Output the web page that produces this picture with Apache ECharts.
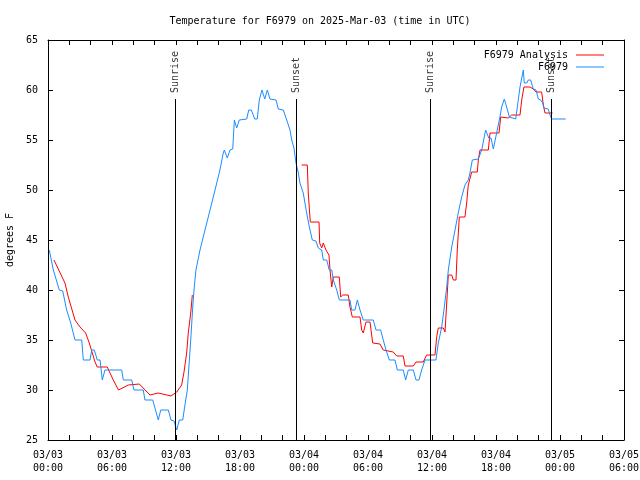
<!DOCTYPE html>
<html>
<head>
<meta charset="utf-8">
<script src="https://cdn.jsdelivr.net/npm/echarts@6/dist/echarts.min.js"></script>
<style>html,body{margin:0;padding:0;background:#fff;}#c{width:640px;height:480px;}</style>
</head>
<body>
<div id="c"></div>
<script>
// Hours since 2025-03-03 00:00 UTC
var analysisHours = [0.56,1.59,1.90,2.53,3.00,3.53,3.87,4.41,4.62,5.56,6.12,6.61,7.53,8.56,9.56,10.34,11.53,12.07,12.53,12.75,13.00,13.15,13.38,13.53,
  null,
  23.78,24.31,24.40,24.59,25.41,25.47,25.66,25.81,26.06,26.34,26.44,26.60,26.75,27.31,27.44,27.63,28.15,28.31,28.53,29.25,29.41,29.56,29.81,30.19,30.44,31.12,31.43,32.37,32.69,33.31,33.47,34.25,34.50,35.18,35.50,36.28,36.44,36.59,37.06,37.22,37.38,37.53,37.85,38.00,38.25,38.37,38.56,39.09,39.25,39.40,39.72,40.25,40.34,40.50,41.28,41.44,42.28,42.44,43.15,43.47,44.25,44.41,44.62,45.19,45.50,45.75,46.28,46.44,46.59,47.31];
var analysisTemp = [43,40.7,39.3,37,36.3,35.7,34.7,32.8,32.3,32.3,31,30,30.5,30.6,29.5,29.7,29.4,29.8,30.5,31.8,33.7,35.7,37.7,39.5,
  null,
  52.5,52.5,49.7,46.8,46.8,44.7,44.2,44.7,44,43.5,42,40.3,41.3,41.3,39.3,39.5,39.5,38.3,37.3,37.3,36,35.7,36.8,36.8,34.7,34.6,34,33.8,33.4,33.4,32.4,32.4,32.8,32.8,33.5,33.5,35.3,36.2,36.2,35.8,38.7,41.5,41.5,41,41,44,47.3,47.3,48.7,50.5,51.8,51.8,53,54,54,55.7,55.7,57.3,57.2,57.5,57.5,59,60.3,60.3,60.1,59.8,59.8,58.5,57.7,57.7];

var obsHours = [0.12,0.50,1.06,1.38,1.75,2.13,2.53,3.16,3.31,3.94,4.10,4.34,4.62,4.88,5.09,5.34,6.91,7.06,7.85,8.06,8.93,9.09,9.82,10.34,10.57,11.28,11.53,11.81,12.07,12.31,12.63,12.84,13.06,13.38,13.57,13.69,13.87,14.25,14.72,15.19,15.66,16.12,16.43,16.53,16.81,17.06,17.32,17.47,17.69,17.93,18.63,18.82,19.06,19.38,19.62,19.81,20.06,20.32,20.56,20.81,21.38,21.59,22.06,22.38,22.69,22.85,23.06,23.25,23.47,23.62,23.93,24.25,24.50,24.78,25.12,25.34,25.66,25.81,26.13,26.37,26.60,26.75,27.07,27.31,28.31,28.47,28.78,29.00,29.25,29.56,30.50,30.75,31.19,31.43,31.69,32.00,32.53,32.75,33.31,33.53,33.78,34.25,34.50,34.78,35.03,35.34,36.37,36.59,36.91,37.12,37.38,37.53,37.85,38.16,38.46,38.78,39.09,39.40,39.56,39.78,40.34,40.66,41.03,41.32,41.53,41.75,42.06,42.37,42.53,42.78,43.00,43.25,43.31,43.85,44.00,44.25,44.56,44.65,44.88,45.03,45.25,45.50,45.75,45.97,46.19,46.38,46.50,46.90,47.06,47.22,48.53];
var obsTemp = [44,42,40,39.9,38,36.7,35,35,33,33,34,34,33,33,31,32,32,31,31,30,30,29,29,27,28,28,27,26.9,26,27,27,28.5,30,35,38.3,40,42,44,46,48,50,52,53.7,54,53.2,54,54.1,57,56.2,57,57.1,58,58,57.1,57.1,59,60,59.1,60,59.1,59,58.1,58,57,56,55,54.2,52.7,51.7,50.7,49.7,47.7,46.3,45,44.9,44.2,44,43,43,42,42,41,40,39,39,38,38,39,38,37,37,36,36,35,34,33,33,32,32,31,32,32,31,31,32,33,33,34.7,36.3,38,40.3,42,44.3,46,47.7,49.3,50.5,51,51.7,53,53.1,54,56,55.2,55.2,54.1,55.7,57.3,58.3,59.1,58.3,57.3,57.1,57.1,58.3,60.3,62,60.7,60.7,61,61,60.1,60,59.1,59,58.7,58.2,58.1,57.5,57.1,57.1];

var eventHours = [11.91, 23.25, 35.81, 47.16];
var eventNames = ['Sunrise', 'Sunset', 'Sunrise', 'Sunset'];
var eventTop = 59.1;

var seriesNames = ['F6979 Analysis', 'F6979'];
var seriesColors = ['#ff0000', '#1a8cff'];
var yTicks = [25, 65, 5];

function pairs(xs, ys) {
  var out = [];
  for (var i = 0; i < xs.length; i++) {
    out.push(xs[i] === null ? [null, null] : [xs[i], ys[i]]);
  }
  return out;
}

var FONT = 'DejaVu Sans Mono';
function fmtX(v) {
  var day = 3 + Math.floor(v / 24);
  var hr = Math.round(v % 24);
  return '03/0' + day + '\n' + (hr < 10 ? '0' : '') + hr + ':00';
}

var eventLines = eventHours.map(function (h) {
  return [{ coord: [h, yTicks[0]] }, { coord: [h, eventTop] }];
});

var chart = echarts.init(document.getElementById('c'), null, { renderer: 'canvas' });
var axisCommon = {
  axisLine: { show: true, onZero: false, lineStyle: { color: '#000', width: 1 } },
  axisTick: { show: true, inside: true, length: 5, lineStyle: { color: '#000' } },
  splitLine: { show: false }
};
chart.setOption({
  animation: false,
  backgroundColor: '#fff',
  title: {
    text: 'Temperature for F6979 on 2025-Mar-03 (time in UTC)',
    left: 'center', top: 11,
    textStyle: { fontFamily: FONT, fontSize: 10, fontWeight: 'normal', color: '#000' }
  },
  legend: {
    data: seriesNames.map(function (n, i) {
      return { name: n, icon: 'rect', itemStyle: { color: seriesColors[i] } };
    }),
    orient: 'vertical',
    right: 31, top: 44,
    align: 'right',
    itemWidth: 28, itemHeight: 1, itemGap: 0,
    textStyle: { fontFamily: FONT, fontSize: 10, color: '#000', lineHeight: 12, padding: [0, 3, 0, 0] }
  },
  grid: { left: 48, right: 16, top: 40, bottom: 40, containLabel: false, outerBoundsMode: 'none' },
  xAxis: [
    Object.assign({}, axisCommon, {
      type: 'value', min: 0, max: 54, interval: 6, position: 'bottom',
      minorTick: { show: true, splitNumber: 3, length: 5, lineStyle: { color: '#000' } },
      axisLabel: { formatter: fmtX, fontFamily: FONT, fontSize: 10, color: '#000', lineHeight: 13, margin: 9 }
    }),
    Object.assign({}, axisCommon, {
      type: 'value', min: 0, max: 54, interval: 6, position: 'top',
      minorTick: { show: true, splitNumber: 3, length: 5, lineStyle: { color: '#000' } },
      axisLabel: { show: false }
    })
  ],
  yAxis: [
    Object.assign({}, axisCommon, {
      type: 'value', min: yTicks[0], max: yTicks[1], interval: yTicks[2], position: 'left',
      name: 'degrees F', nameLocation: 'middle', nameGap: 33, nameRotate: 90,
      nameTextStyle: { fontFamily: FONT, fontSize: 10, color: '#000' },
      axisLabel: { fontFamily: FONT, fontSize: 10, color: '#000', margin: 10 }
    }),
    Object.assign({}, axisCommon, {
      type: 'value', min: yTicks[0], max: yTicks[1], interval: yTicks[2], position: 'right',
      axisLabel: { show: false }
    })
  ],
  series: [
    {
      name: 'events', type: 'scatter', xAxisIndex: 0, yAxisIndex: 0,
      symbolSize: 0, silent: true,
      data: eventHours.map(function (h, i) { return [h, eventTop, eventNames[i]]; }),
      label: {
        show: true, position: 'top', distance: 6, rotate: 90,
        align: 'left', verticalAlign: 'middle',
        formatter: function (p) { return p.value[2]; },
        fontFamily: FONT, fontSize: 10, color: '#000'
      },
      markLine: {
        silent: true, symbol: ['none', 'none'], animation: false,
        label: { show: false },
        lineStyle: { color: '#000', width: 1, type: 'solid' },
        emphasis: { disabled: true },
        data: eventLines
      },
      z: 1
    },
    {
      name: seriesNames[0], type: 'line', xAxisIndex: 0, yAxisIndex: 0,
      data: pairs(analysisHours, analysisTemp),
      symbol: 'none', connectNulls: false,
      lineStyle: { color: seriesColors[0], width: 1 }, itemStyle: { color: seriesColors[0] },
      z: 2
    },
    {
      name: seriesNames[1], type: 'line', xAxisIndex: 0, yAxisIndex: 0,
      data: pairs(obsHours, obsTemp),
      symbol: 'none',
      lineStyle: { color: seriesColors[1], width: 1 }, itemStyle: { color: seriesColors[1] },
      z: 3
    }
  ]
});
</script>
</body>
</html>
